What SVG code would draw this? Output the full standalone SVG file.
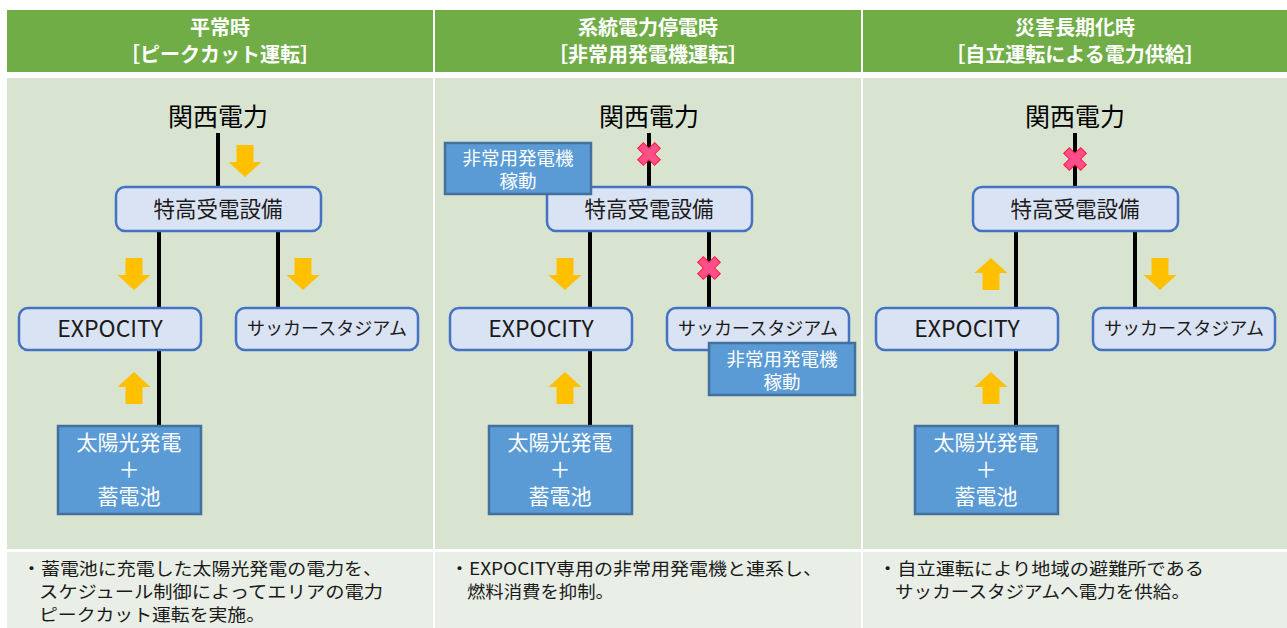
<svg xmlns="http://www.w3.org/2000/svg" xmlns:xlink="http://www.w3.org/1999/xlink" width="1287" height="628" viewBox="0 0 1287 628">
<style>
text{font-family:"Noto Sans CJK JP","Noto Sans",sans-serif;}
.hd{fill:#ffffff;font-weight:bold;font-size:20px;text-anchor:middle;}
.src{fill:#000;font-size:25px;text-anchor:middle;}
.nd{fill:#dae3f3;stroke:#4472c4;stroke-width:2.5;}
.nt{fill:#1a1a1a;font-size:21.5px;text-anchor:middle;}
.ne{fill:#1a1a1a;font-size:23px;text-anchor:middle;}
.ns{fill:#1a1a1a;font-size:18px;text-anchor:middle;}
.bb{fill:#5b9bd5;stroke:#41719c;stroke-width:2.5;}
.bt{fill:#ffffff;font-size:21px;text-anchor:middle;}
.gt{fill:#ffffff;font-size:18.5px;text-anchor:middle;}
.ln{stroke:#000;stroke-width:4;fill:none;}
.ar{fill:#ffc000;}
.xm{fill:#ff4f8b;stroke:#ff1a3c;stroke-width:1;}
.ft{fill:#1a1a1a;font-size:17.5px;}
</style>
<defs>
<path id="dn" class="ar" d="M-8.5,0 H8.5 V17 H16.5 L0,32 L-16.5,17 H-8.5 Z"/>
<path id="up" class="ar" d="M-8.5,32 H8.5 V15 H16.5 L0,0 L-16.5,15 H-8.5 Z"/>
<path id="xx" class="xm" d="M-4,-12 H4 V-4 H12 V4 H4 V12 H-4 V4 H-12 V-4 H-4 Z" transform="rotate(45)"/>
</defs>
<rect width="1287" height="628" fill="#ffffff"/>
<g id="background">
<rect x="7" y="10" width="426" height="62" fill="#70ad47"/>
<rect x="435" y="10" width="426" height="62" fill="#70ad47"/>
<rect x="863" y="10" width="424" height="62" fill="#70ad47"/>
<rect x="7" y="78" width="426" height="471" fill="#d8e4d0"/>
<rect x="435" y="78" width="426" height="471" fill="#d8e4d0"/>
<rect x="863" y="78" width="424" height="471" fill="#d8e4d0"/>
<rect x="7" y="552" width="426" height="76" fill="#e9efe6"/>
<rect x="435" y="552" width="426" height="76" fill="#e9efe6"/>
<rect x="863" y="552" width="424" height="76" fill="#e9efe6"/>
</g>
<g id="headers">
<text class="hd" x="220" y="35">平常時</text>
<text class="hd" x="220" y="62">［ピークカット運転］</text>
<text class="hd" x="648" y="35">系統電力停電時</text>
<text class="hd" x="648" y="62">［非常用発電機運転］</text>
<text class="hd" x="1075" y="35">災害長期化時</text>
<text class="hd" x="1075" y="62">［自立運転による電力供給］</text>
</g>
<g id="connectors">
<line class="ln" x1="218" y1="133" x2="218" y2="188"/>
<line class="ln" x1="159" y1="231" x2="159" y2="308"/>
<line class="ln" x1="278" y1="231" x2="278" y2="308"/>
<line class="ln" x1="159" y1="350" x2="159" y2="426"/>
<line class="ln" x1="649" y1="133" x2="649" y2="188"/>
<line class="ln" x1="590" y1="231" x2="590" y2="308"/>
<line class="ln" x1="709" y1="231" x2="709" y2="308"/>
<line class="ln" x1="590" y1="350" x2="590" y2="426"/>
<line class="ln" x1="1075" y1="133" x2="1075" y2="188"/>
<line class="ln" x1="1016" y1="231" x2="1016" y2="308"/>
<line class="ln" x1="1135" y1="231" x2="1135" y2="308"/>
<line class="ln" x1="1016" y1="350" x2="1016" y2="426"/>
<use xlink:href="#dn" transform="translate(245,145)"/>
<use xlink:href="#dn" transform="translate(134,258)"/>
<use xlink:href="#dn" transform="translate(303,258)"/>
<use xlink:href="#up" transform="translate(134,372)"/>
<use xlink:href="#dn" transform="translate(565,258)"/>
<use xlink:href="#up" transform="translate(565,372)"/>
<use xlink:href="#up" transform="translate(991,258)"/>
<use xlink:href="#dn" transform="translate(1160,258)"/>
<use xlink:href="#up" transform="translate(991,372)"/>
<use xlink:href="#xx" transform="translate(649,154)"/>
<use xlink:href="#xx" transform="translate(709,268)"/>
<use xlink:href="#xx" transform="translate(1075,159)"/>
</g>
<g id="col1">
<g id="kepco1"><text class="src" x="218" y="126">関西電力</text></g>
<g id="sub1"><rect class="nd" x="116" y="187" width="205" height="44" rx="9"/><text class="nt" x="218" y="217">特高受電設備</text></g>
<g id="expo1"><rect class="nd" x="19" y="308" width="182" height="42" rx="9"/><text class="ne" x="110" y="337">EXPOCITY</text></g>
<g id="stad1"><rect class="nd" x="236" y="308" width="182" height="42" rx="9"/><text class="ns" x="327" y="335">サッカースタジアム</text></g>
<g id="solar1"><rect class="bb" x="58" y="426" width="143" height="88"/><text class="bt" x="129" y="450">太陽光発電</text><text class="bt" x="129" y="477">＋</text><text class="bt" x="129" y="504">蓄電池</text></g>
</g>
<g id="col2">
<g id="kepco2"><text class="src" x="649" y="126">関西電力</text></g>
<g id="sub2"><rect class="nd" x="547" y="187" width="205" height="44" rx="9"/><text class="nt" x="649" y="217">特高受電設備</text></g>
<g id="gen2a"><rect class="bb" x="445" y="143" width="146" height="51"/><text class="gt" x="518" y="165">非常用発電機</text><text class="gt" x="518" y="188">稼動</text></g>
<g id="expo2"><rect class="nd" x="450" y="308" width="182" height="42" rx="9"/><text class="ne" x="541" y="337">EXPOCITY</text></g>
<g id="stad2"><rect class="nd" x="667" y="308" width="182" height="42" rx="9"/><text class="ns" x="758" y="335">サッカースタジアム</text></g>
<g id="gen2b"><rect class="bb" x="709" y="343" width="146" height="52"/><text class="gt" x="782" y="366">非常用発電機</text><text class="gt" x="782" y="389">稼動</text></g>
<g id="solar2"><rect class="bb" x="489" y="426" width="143" height="88"/><text class="bt" x="560" y="450">太陽光発電</text><text class="bt" x="560" y="477">＋</text><text class="bt" x="560" y="504">蓄電池</text></g>
</g>
<g id="col3">
<g id="kepco3"><text class="src" x="1075" y="126">関西電力</text></g>
<g id="sub3"><rect class="nd" x="973" y="187" width="205" height="44" rx="9"/><text class="nt" x="1075" y="217">特高受電設備</text></g>
<g id="expo3"><rect class="nd" x="876" y="308" width="182" height="42" rx="9"/><text class="ne" x="967" y="337">EXPOCITY</text></g>
<g id="stad3"><rect class="nd" x="1093" y="308" width="182" height="42" rx="9"/><text class="ns" x="1184" y="335">サッカースタジアム</text></g>
<g id="solar3"><rect class="bb" x="915" y="426" width="143" height="88"/><text class="bt" x="986" y="450">太陽光発電</text><text class="bt" x="986" y="477">＋</text><text class="bt" x="986" y="504">蓄電池</text></g>
</g>
<g id="notes">
<text class="ft" x="22" y="575" textLength="360" lengthAdjust="spacingAndGlyphs">・蓄電池に充電した太陽光発電の電力を、</text>
<text class="ft" x="39" y="598" textLength="344" lengthAdjust="spacingAndGlyphs">スケジュール制御によってエリアの電力</text>
<text class="ft" x="39" y="621" textLength="226" lengthAdjust="spacingAndGlyphs">ピークカット運転を実施。</text>
<text class="ft" x="450" y="575" textLength="372" lengthAdjust="spacingAndGlyphs">・EXPOCITY専用の非常用発電機と連系し、</text>
<text class="ft" x="467" y="598" textLength="147" lengthAdjust="spacingAndGlyphs">燃料消費を抑制。</text>
<text class="ft" x="878" y="575" textLength="326" lengthAdjust="spacingAndGlyphs">・自立運転により地域の避難所である</text>
<text class="ft" x="895" y="598" textLength="295" lengthAdjust="spacingAndGlyphs">サッカースタジアムへ電力を供給。</text>
</g>
</svg>
